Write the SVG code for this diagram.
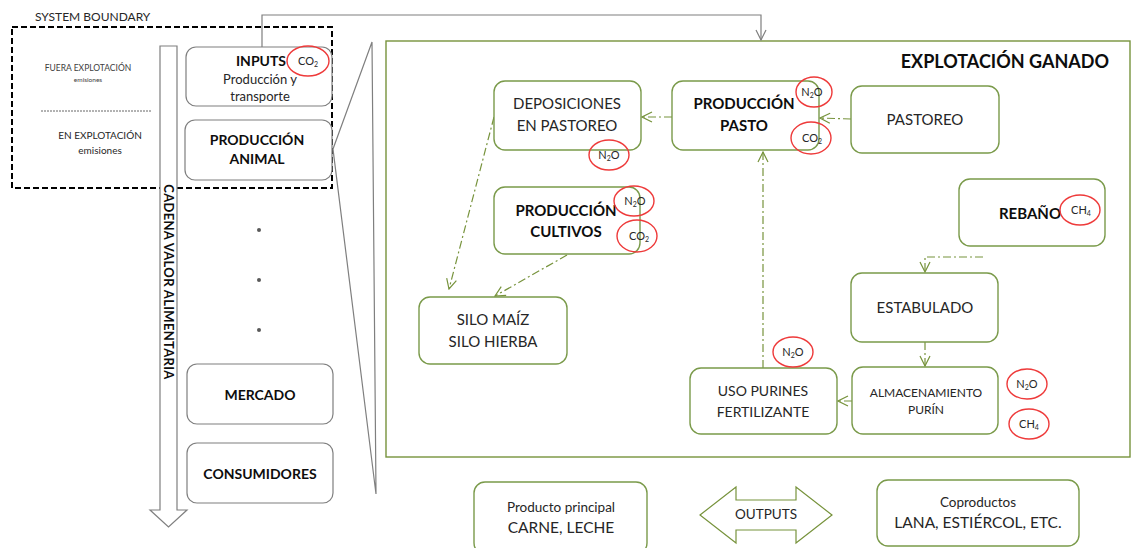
<svg xmlns="http://www.w3.org/2000/svg" width="1136" height="548" viewBox="0 0 1136 548">
<defs>
<style>
text{font-family:Lato,"Liberation Sans",sans-serif;fill:#262626;text-anchor:middle}
.b{font-weight:bold;fill:#0d0d0d}
.gbox{fill:#fff;stroke:#7a9a4a;stroke-width:1.4}
.kbox{fill:#fff;stroke:#7f7f7f;stroke-width:1.2}
.em{fill:none;stroke:#ee3a3a;stroke-width:1.4}
.gc{fill:none;stroke:#77933c;stroke-width:1.2;stroke-dasharray:8 3 2 3}
.gr{fill:none;stroke:#7f7f7f;stroke-width:1.2}
.gas{font-size:11px}
</style>
<marker id="ga" viewBox="0 0 12 12" refX="11" refY="6" markerWidth="12" markerHeight="12" markerUnits="userSpaceOnUse" orient="auto">
<path d="M1,1 L11,6 L1,11" fill="none" stroke="#77933c" stroke-width="1.2"/>
</marker>
<marker id="ka" viewBox="0 0 12 12" refX="11" refY="6" markerWidth="12" markerHeight="12" markerUnits="userSpaceOnUse" orient="auto">
<path d="M1,1 L11,6 L1,11" fill="none" stroke="#7f7f7f" stroke-width="1.2"/>
</marker>
</defs>
<rect width="1136" height="548" fill="#fff"/>

<g id="system-boundary">
<text x="35" y="21" style="font-size:12px;text-anchor:start">SYSTEM  BOUNDARY</text>
<rect x="12" y="27" width="320" height="161" fill="none" stroke="#000" stroke-width="2" stroke-dasharray="6 3"/>
<text x="88" y="71" style="font-size:8.5px;fill:#404040">FUERA EXPLOTACIÓN</text>
<text x="88" y="82" style="font-size:6.5px;fill:#404040">emisiones</text>
<line x1="41" y1="111" x2="152" y2="111" stroke="#404040" stroke-width="0.8" stroke-dasharray="2 1"/>
<text x="100" y="139" style="font-size:10px">EN EXPLOTACIÓN</text>
<text x="100" y="154" style="font-size:10px">emisiones</text>
</g>

<g id="cadena-arrow">
<path d="M160,46 L177,46 L177,510 L187,510 L168.5,527 L150,510 L160,510 Z" fill="#fff" stroke="#7f7f7f" stroke-width="1.2"/>
<text transform="translate(164,282) rotate(90)" class="b" style="font-size:13px;letter-spacing:0.3px">CADENA VALOR ALIMENTARIA</text>
</g>

<g id="callout">
<path d="M333,149 L372,42 L376,494 Z" fill="none" stroke="#7f7f7f" stroke-width="1.2"/>
</g>

<g id="inputs">
<rect class="kbox" x="186" y="47" width="146" height="59" rx="10"/>
<text x="261" y="66" class="b" style="font-size:14px">INPUTS</text>
<text x="260" y="84" style="font-size:13px">Producción y</text>
<text x="260" y="101" style="font-size:13px">transporte</text>
<ellipse class="em" cx="308" cy="61" rx="21" ry="15"/>
<text x="308" y="65" class="gas">CO<tspan font-size="7" dy="2">2</tspan></text>
</g>

<g id="produccion-animal">
<rect class="kbox" x="185" y="120" width="147" height="60" rx="10"/>
<text x="257" y="145" class="b" style="font-size:14px">PRODUCCIÓN</text>
<text x="257" y="164" class="b" style="font-size:14px">ANIMAL</text>
</g>

<g id="dots" fill="#595959">
<circle cx="259" cy="230" r="2"/>
<circle cx="259" cy="280" r="2"/>
<circle cx="259" cy="330" r="2"/>
</g>

<g id="mercado">
<rect class="kbox" x="187" y="364" width="146" height="60" rx="10"/>
<text x="260" y="400" class="b" style="font-size:14px">MERCADO</text>
</g>

<g id="consumidores">
<rect class="kbox" x="187" y="443" width="146" height="60" rx="10"/>
<text x="260" y="479" class="b" style="font-size:14px">CONSUMIDORES</text>
</g>

<g id="explotacion">
<rect x="386" y="41" width="744" height="416" fill="none" stroke="#77933c" stroke-width="1.4"/>
<text x="1109" y="68" class="b" style="font-size:18px;text-anchor:end">EXPLOTACIÓN GANADO</text>
</g>

<g id="connectors">
<path class="gr" d="M262,47 L262,15 L761,15 L761,40" marker-end="url(#ka)"/>
<line class="gc" x1="851" y1="119" x2="820" y2="118" marker-end="url(#ga)"/>
<line class="gc" x1="672" y1="117" x2="642" y2="117" marker-end="url(#ga)"/>
<line class="gc" x1="494" y1="117" x2="449" y2="289" marker-end="url(#ga)"/>
<line class="gc" x1="567" y1="255" x2="495" y2="296" marker-end="url(#ga)"/>
<line class="gc" x1="763" y1="368" x2="763" y2="152" marker-end="url(#ga)"/>
<path class="gc" d="M983,257 L925,257 L925,272" marker-end="url(#ga)"/>
<line class="gc" x1="925" y1="342" x2="925" y2="366" marker-end="url(#ga)"/>
<line class="gc" x1="852" y1="401" x2="838" y2="401" marker-end="url(#ga)"/>
</g>

<g id="deposiciones">
<rect class="gbox" x="494" y="81" width="147" height="69" rx="11"/>
<text x="567" y="109" style="font-size:15px">DEPOSICIONES</text>
<text x="567" y="131" style="font-size:15px">EN PASTOREO</text>
<ellipse class="em" cx="609" cy="155" rx="20" ry="15"/>
<text x="609" y="159" class="gas">N<tspan font-size="7" dy="2">2</tspan><tspan dy="-2">O</tspan></text>
</g>

<g id="produccion-pasto">
<rect class="gbox" x="672" y="81" width="147" height="69" rx="11"/>
<text x="744" y="109" class="b" style="font-size:15px">PRODUCCIÓN</text>
<text x="744" y="131" class="b" style="font-size:15px">PASTO</text>
<ellipse class="em" cx="814" cy="92" rx="18" ry="15"/>
<text x="812" y="96" class="gas">N<tspan font-size="7" dy="2">2</tspan><tspan dy="-2">O</tspan></text>
<ellipse class="em" cx="811" cy="138" rx="20" ry="16"/>
<text x="812" y="142" class="gas">CO<tspan font-size="7" dy="2">2</tspan></text>
</g>

<g id="pastoreo">
<rect class="gbox" x="851" y="86" width="148" height="67" rx="11"/>
<text x="925" y="125" style="font-size:15px">PASTOREO</text>
</g>

<g id="produccion-cultivos">
<rect class="gbox" x="494" y="187" width="146" height="67" rx="11"/>
<text x="566" y="216" class="b" style="font-size:15px">PRODUCCIÓN</text>
<text x="566" y="237" class="b" style="font-size:15px">CULTIVOS</text>
<ellipse class="em" cx="634" cy="201" rx="20" ry="15"/>
<text x="635" y="205" class="gas">N<tspan font-size="7" dy="2">2</tspan><tspan dy="-2">O</tspan></text>
<ellipse class="em" cx="637" cy="236" rx="20" ry="16"/>
<text x="639" y="240" class="gas">CO<tspan font-size="7" dy="2">2</tspan></text>
</g>

<g id="rebano">
<rect class="gbox" x="959" y="179" width="146" height="67" rx="11"/>
<text x="1030" y="219" class="b" style="font-size:15px">REBAÑO</text>
<ellipse class="em" cx="1080" cy="210" rx="20" ry="15"/>
<text x="1081" y="214" class="gas">CH<tspan font-size="7" dy="2">4</tspan></text>
</g>

<g id="silo">
<rect class="gbox" x="419" y="297" width="148" height="67" rx="11"/>
<text x="493" y="325" style="font-size:15px">SILO MAÍZ</text>
<text x="493" y="347" style="font-size:15px">SILO HIERBA</text>
</g>

<g id="estabulado">
<rect class="gbox" x="851" y="273" width="147" height="69" rx="11"/>
<text x="925" y="313" style="font-size:15px">ESTABULADO</text>
</g>

<g id="almacenamiento">
<rect class="gbox" x="852" y="367" width="146" height="67" rx="11"/>
<text x="926" y="397" style="font-size:12px">ALMACENAMIENTO</text>
<text x="926" y="414" style="font-size:12px">PURÍN</text>
<ellipse class="em" cx="1027" cy="384" rx="20" ry="15"/>
<text x="1027" y="388" class="gas">N<tspan font-size="7" dy="2">2</tspan><tspan dy="-2">O</tspan></text>
<ellipse class="em" cx="1029" cy="424" rx="20" ry="15"/>
<text x="1029" y="428" class="gas">CH<tspan font-size="7" dy="2">4</tspan></text>
</g>

<g id="uso-purines">
<rect class="gbox" x="690" y="368" width="147" height="66" rx="11"/>
<text x="763" y="396" style="font-size:14px">USO PURINES</text>
<text x="763" y="417" style="font-size:14px">FERTILIZANTE</text>
<ellipse class="em" cx="793" cy="352" rx="20" ry="15"/>
<text x="793" y="356" class="gas">N<tspan font-size="7" dy="2">2</tspan><tspan dy="-2">O</tspan></text>
</g>

<g id="producto-principal">
<rect class="gbox" x="474" y="482" width="173" height="72" rx="11"/>
<text x="561" y="512" style="font-size:13.5px">Producto principal</text>
<text x="561" y="533" style="font-size:15.5px">CARNE, LECHE</text>
</g>

<g id="outputs">
<path d="M700,515 L736,487 L736,500 L796,500 L796,487 L832,515 L796,543 L796,530 L736,530 L736,543 Z" fill="#fff" stroke="#77933c" stroke-width="1.2"/>
<text x="766" y="519" style="font-size:13.5px">OUTPUTS</text>
</g>

<g id="coproductos">
<rect class="gbox" x="877" y="480" width="202" height="66" rx="11"/>
<text x="978" y="507" style="font-size:13.5px">Coproductos</text>
<text x="978" y="528" style="font-size:15.5px">LANA, ESTIÉRCOL, ETC.</text>
</g>
</svg>
